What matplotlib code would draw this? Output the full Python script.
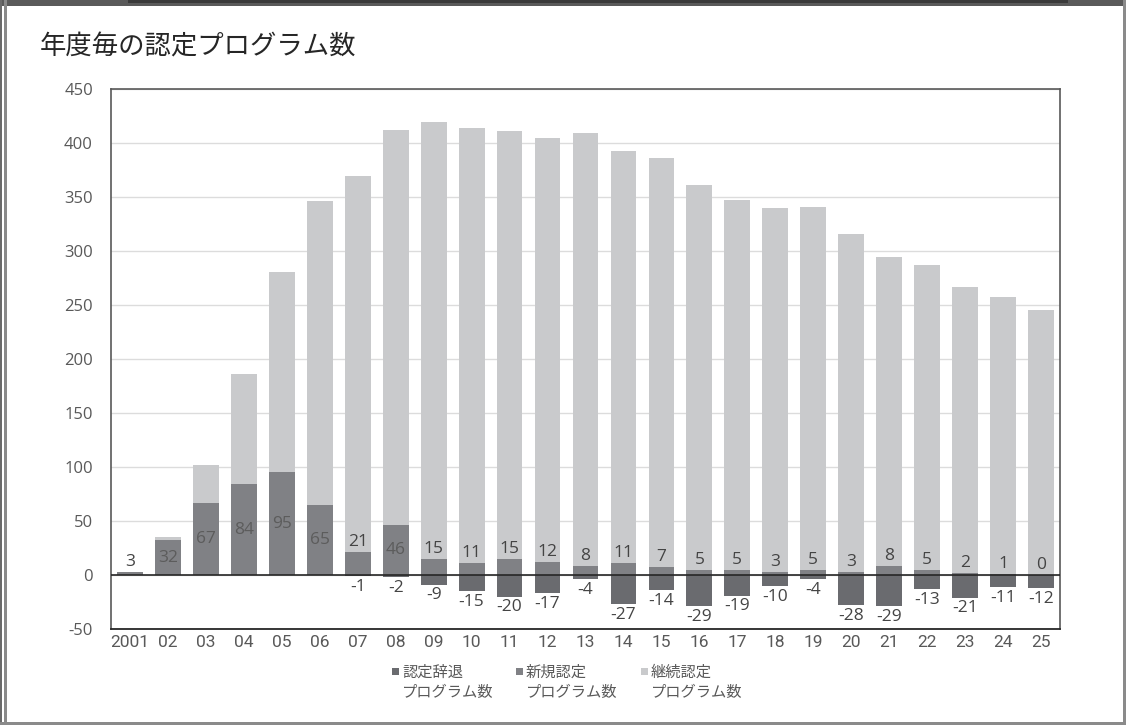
import matplotlib
matplotlib.use("Agg")
import matplotlib.pyplot as plt
from matplotlib.patches import Rectangle
import numpy as np

# ---- data ----
years = ["2001", "02", "03", "04", "05", "06", "07", "08", "09", "10", "11", "12", "13",
         "14", "15", "16", "17", "18", "19", "20", "21", "22", "23", "24", "25"]
new_prog = [3, 32, 67, 84, 95, 65, 21, 46, 15, 11, 15, 12, 8, 11, 7, 5, 5, 3, 5, 3, 8, 5, 2, 1, 0]
withdrawn = [0, 0, 0, 0, 0, 0, -1, -2, -9, -15, -20, -17, -4, -27, -14, -29, -19, -10, -4,
             -28, -29, -13, -21, -11, -12]
totals = [3, 35, 102, 186, 281, 346, 369, 412, 419, 414, 411, 405, 409, 393, 386, 361, 347,
          340, 341, 316, 294, 287, 267, 257, 245]
continuing = [t - n for t, n in zip(totals, new_prog)]

series_labels = ["認定辞退\nプログラム数", "新規認定\nプログラム数", "継続認定\nプログラム数"]
series_colors = ["#6a6b6f", "#808185", "#c9cacc"]
title = "年度毎の認定プログラム数"
yticks = list(range(-50, 451, 50))

CJK = ["Noto Sans CJK JP", "DejaVu Sans"]
NUM = ["Open Sans", "DejaVu Sans"]
NARROW = ["Roboto", "DejaVu Sans"]

W, H = 1128, 725
fig = plt.figure(figsize=(W / 100, H / 100), dpi=100)
fig.patch.set_facecolor("white")

# ---- frame decoration ----
def frect(x0, y0, x1, y1, color):
    fig.patches.append(Rectangle((x0 / W, 1 - y1 / H), (x1 - x0) / W, (y1 - y0) / H,
                                 transform=fig.transFigure, facecolor=color,
                                 edgecolor="none", zorder=0))

frect(0, 0, 1123, 6, "#5a5a5a")
frect(128, 0, 1068, 2.5, "#3a3a3a")
frect(0, 0, 2, 725, "#6a6a6a")
frect(4, 0, 7, 725, "#8a8a8a")
frect(1123, 0, 1126, 725, "#8a8a8a")
frect(0, 722, 1126, 725, "#8a8a8a")

ax = fig.add_axes([111 / W, 1 - 629 / H, (1060 - 111) / W, (629 - 89) / H])
x = np.arange(len(years))
bw = 0.68

ax.bar(x, withdrawn, bw, color=series_colors[0], zorder=2)
ax.bar(x, new_prog, bw, color=series_colors[1], zorder=2)
ax.bar(x, continuing, bw, bottom=new_prog, color=series_colors[2], zorder=2)

ax.axhline(0, color="#262626", lw=1.2, zorder=4)

ax.set_ylim(-50, 450)
ax.set_xlim(-0.5, len(years) - 0.5)
ax.set_yticks(yticks)
ax.set_yticklabels([str(v) for v in yticks], family=NUM, fontsize=12, color="#595959")
ax.set_xticks(x)
ax.set_xticklabels(years, family=NARROW, fontsize=12.5, color="#595959")
ax.tick_params(axis="y", length=0, pad=13)
ax.tick_params(axis="x", length=0, pad=4)
ax.grid(axis="y", color="#dcdcdc", lw=1, zorder=0)
ax.set_axisbelow(True)
for s in ["left", "top", "right"]:
    ax.spines[s].set_color("#595959")
    ax.spines[s].set_linewidth(1.2)
ax.spines["bottom"].set_color("#262626")
ax.spines["bottom"].set_linewidth(1.3)

# ---- data labels ----
for xi, v in zip(x, new_prog):
    if v >= 30:
        ax.text(xi, v / 2, str(v), ha="center", va="center", family=NUM,
                fontsize=12.5, color="#5c5c5c", zorder=5)
    else:
        ax.annotate(str(v), (xi, v), xytext=(0, 1.5), textcoords="offset points",
                    ha="center", va="bottom", family=NUM, fontsize=12.5,
                    color="#444444", zorder=5)
for xi, v in zip(x, withdrawn):
    if v < 0:
        ax.annotate(str(v), (xi, v), xytext=(0, -2), textcoords="offset points",
                    ha="center", va="top", family=NUM, fontsize=12.5,
                    color="#444444", zorder=5)

# ---- title ----
fig.text(40 / W, 1 - 47 / H, title, family=CJK, fontsize=19, color="#262626",
         ha="left", va="center")

# ---- legend (manual) ----
leg_x = [392, 516, 641]
for lx, lab, col in zip(leg_x, series_labels, series_colors):
    frect(lx, 668, lx + 7, 675, col)
    l1, l2 = lab.split("\n")
    fig.text((lx + 10) / W, 1 - 672 / H, l1, family=CJK, fontsize=11, color="#595959",
             ha="left", va="center")
    fig.text((lx + 10) / W, 1 - 693 / H, l2, family=CJK, fontsize=11, color="#595959",
             ha="left", va="center")

fig.savefig("out.png", dpi=100)
